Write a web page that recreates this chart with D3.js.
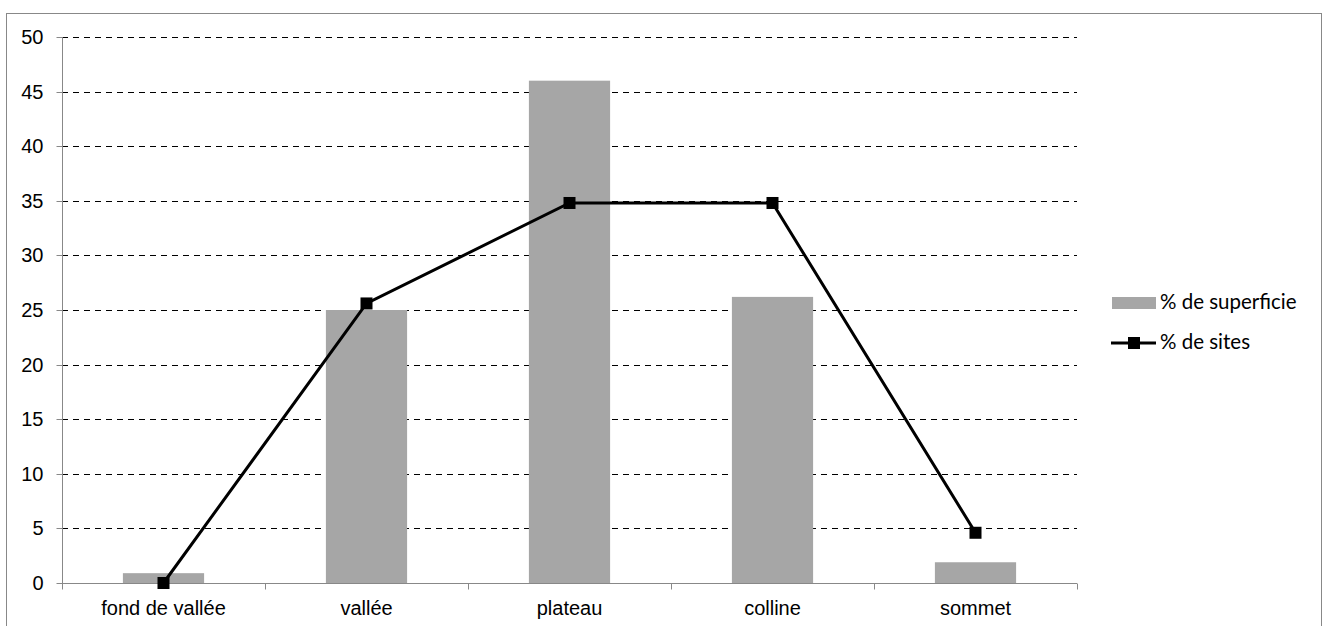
<!DOCTYPE html>
<html><head><meta charset="utf-8">
<script src="https://cdn.jsdelivr.net/npm/d3@7"></script>
<style>body{margin:0;background:#fff}svg{display:block}</style>
</head><body>
<svg id="c" width="1324" height="626"></svg>
<script>
const categories = ["fond de vallée", "vallée", "plateau", "colline", "sommet"];
const superficie = [0.9, 25.0, 46.0, 26.2, 1.9];
const sites = [0, 25.6, 34.8, 34.8, 4.6];
const yTicks = [0, 5, 10, 15, 20, 25, 30, 35, 40, 45, 50];
const seriesNames = ["% de superficie", "% de sites"];

const svg = d3.select("#c");
const L = 62, R = 1077, T = 37, B = 583;
svg.append("rect").attr("x", 6.5).attr("y", 13.5).attr("width", 1315).attr("height", 640)
  .attr("fill", "#fff").attr("stroke", "#888").attr("stroke-width", 1);

const x = d3.scaleBand().domain(categories).range([L, R]).paddingInner(0).paddingOuter(0);
const y = d3.scaleLinear().domain([0, 50]).range([B, T]);

// gridlines
svg.append("g").selectAll("line").data(yTicks.filter(d => d > 0)).join("line")
  .attr("x1", L).attr("x2", R).attr("y1", d => Math.round(y(d)) + 0.5).attr("y2", d => Math.round(y(d)) + 0.5)
  .attr("stroke", "#000").attr("stroke-width", 1.2).attr("stroke-dasharray", "6,5");

// bars
const bw = x.bandwidth() * 0.4;
svg.append("g").selectAll("rect").data(categories).join("rect")
  .attr("x", d => x(d) + x.bandwidth() / 2 - bw / 2)
  .attr("y", (d, i) => y(superficie[i]))
  .attr("width", bw)
  .attr("height", (d, i) => y(0) - y(superficie[i]))
  .attr("fill", "#a6a6a6");

// y axis
const yAxis = d3.axisLeft(y).tickValues(yTicks).tickSize(6).tickPadding(13).tickFormat(d3.format("d"));
const gy = svg.append("g").attr("transform", `translate(${L + 0.5},0)`).call(yAxis);
gy.select(".domain").attr("stroke", "#888").attr("d", `M0,${T}V${B}`);
gy.selectAll(".tick line").attr("stroke", "#888");
gy.selectAll(".tick text").attr("font-family", "Liberation Sans, Arial, sans-serif").attr("font-size", 20).attr("fill", "#000");
gy.selectAll(".tick").attr("transform", d => `translate(0,${Math.round(y(d)) + 0.5})`);

// x axis
const xAxis = d3.axisBottom(x).tickSize(0).tickPadding(0);
const gx = svg.append("g").attr("transform", `translate(0,${B + 0.5})`).call(xAxis);
gx.select(".domain").attr("stroke", "#888").attr("d", `M${L},0H${R}`);
gx.selectAll(".tick text").attr("font-family", "Liberation Sans, Arial, sans-serif").attr("font-size", 20)
  .attr("fill", "#000").attr("dy", null).attr("y", 31);
const bounds = categories.map(c => x(c)).concat([R]);
gx.selectAll("line.sep").data(bounds).join("line").attr("class", "sep")
  .attr("x1", d => Math.round(d) + 0.5).attr("x2", d => Math.round(d) + 0.5)
  .attr("y1", 0).attr("y2", 6).attr("stroke", "#888");

// line
const line = d3.line().x((d, i) => x(categories[i]) + x.bandwidth() / 2).y(d => y(d));
svg.append("path").datum(sites).attr("d", line).attr("fill", "none").attr("stroke", "#000").attr("stroke-width", 3);
svg.append("g").selectAll("rect").data(sites).join("rect")
  .attr("x", (d, i) => x(categories[i]) + x.bandwidth() / 2 - 6)
  .attr("y", d => y(d) - 6).attr("width", 12).attr("height", 12).attr("fill", "#000");

// legend
const lg = svg.append("g");
lg.append("rect").attr("x", 1112).attr("y", 297).attr("width", 44).attr("height", 12).attr("fill", "#a6a6a6");
lg.append("text").attr("x", 1160).attr("y", 309).text(seriesNames[0])
  .attr("font-family", "Lato, Open Sans, sans-serif").attr("font-size", 20.5).attr("fill", "#000");
lg.append("line").attr("x1", 1111).attr("x2", 1156).attr("y1", 343).attr("y2", 343).attr("stroke", "#000").attr("stroke-width", 3);
lg.append("rect").attr("x", 1128).attr("y", 337).attr("width", 12).attr("height", 12).attr("fill", "#000");
lg.append("text").attr("x", 1160).attr("y", 349).text(seriesNames[1])
  .attr("font-family", "Lato, Open Sans, sans-serif").attr("font-size", 20.5).attr("fill", "#000");
</script>
</body></html>
